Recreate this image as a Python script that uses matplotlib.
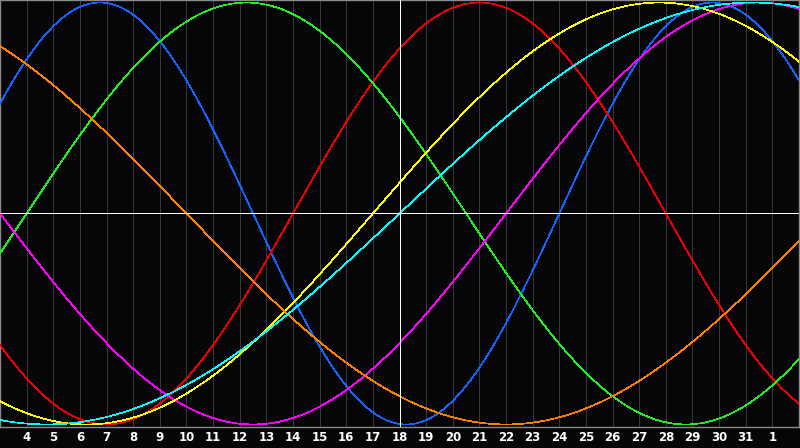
import numpy as np
import matplotlib
matplotlib.use("Agg")
import matplotlib.pyplot as plt

# --- data (biorhythm chart) ---
today = 18                      # highlighted day (white vertical line)
days_alive_today = 21200        # days since birth on "today"
cycle_names = ["Physical", "Emotional", "Intellectual", "Intuitive",
               "Aesthetic", "Awareness", "Spiritual"]
cycle_lengths = [23, 28, 33, 38, 43, 48, 53]
cycle_colors = ["#1464ff", "#ee0000", "#22ee22", "#ff00ff",
                "#ffff00", "#ff7f00", "#00ffff"]
day_start, day_end = 3, 33      # day numbers spanned by the chart (month has 31 days)
tick_days = list(range(4, 33))
tick_labels = [str(d) for d in range(4, 32)] + ["1"]

fig = plt.figure(figsize=(8.0, 4.48), dpi=100)
fig.patch.set_facecolor("#060608")
ax = fig.add_axes([0, 21 / 448, 799 / 800, 427 / 448])
ax.set_facecolor("#060608")

# grid
for d in tick_days:
    ax.axvline(d, color="#383838", lw=0.5, zorder=1, antialiased=False)

t = np.linspace(day_start, day_end, 3000)
for name, P, c in zip(cycle_names, cycle_lengths, cycle_colors):
    elapsed = days_alive_today + (t - today)
    ax.plot(t, np.sin(2 * np.pi * elapsed / P), color=c, lw=0.5,
            antialiased=False, zorder=3, label=name)

ax.axhline(0, color="white", lw=0.5, zorder=4, antialiased=False)
ax.axvline(today, color="white", lw=0.5, zorder=4, antialiased=False)

ax.set_xlim(day_start, day_end)
ax.set_ylim(-1.012, 1.012)
ax.set_yticks([])
ax.set_xticks(tick_days)
ax.set_xticklabels(tick_labels, color="white", fontsize=8.5, fontweight="bold")
ax.tick_params(axis="x", length=0, pad=3)
for s in ax.spines.values():
    s.set_color("#8a8a8a")
    s.set_linewidth(1.0)

fig.savefig("out.png", dpi=100, facecolor=fig.get_facecolor())
